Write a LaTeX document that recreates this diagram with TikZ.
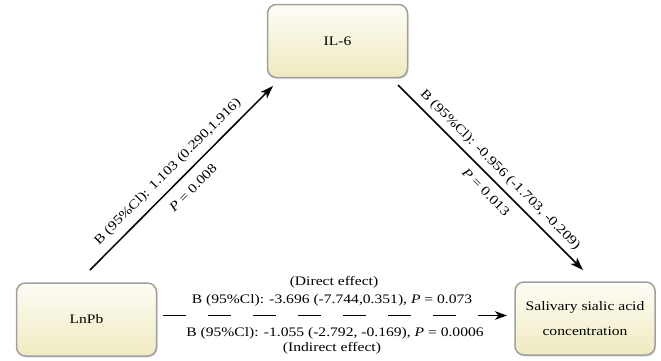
\documentclass[tikz,border=0pt]{standalone}
\usepackage{fontspec}
\setmainfont[FakeStretch=1.2]{Liberation Serif}
\usetikzlibrary{arrows.meta,shadows}
\definecolor{boxtop}{HTML}{FEFDF6}
\definecolor{boxbot}{HTML}{EFEAC0}
\definecolor{boxline}{HTML}{A0A0A0}
\begin{document}
\begin{tikzpicture}[x=1pt,y=-1pt,
  box/.style={draw=boxline, line width=1.5pt, rounded corners=9pt,
    top color=boxtop, bottom color=boxbot,
    minimum width=140pt, minimum height=73pt, inner sep=2pt,
    align=center, font=\fontsize{13}{25}\selectfont,
    drop shadow={shadow xshift=1pt, shadow yshift=-1.5pt, opacity=0.25}},
  lab/.style={font=\fontsize{13}{15}\selectfont, inner sep=0pt},
  conn/.style={line width=1.5pt, -{Stealth[length=13pt,width=9pt,inset=3.5pt]}},
  dconn/.style={line width=1.2pt, dash pattern=on 22.5pt off 22.5pt,
    -{Stealth[length=12pt,width=8.5pt,inset=3.5pt]}}]
\useasboundingbox (0,0) rectangle (661,360);
\fill[white] (0,0) rectangle (661,360);

\node[box] (il6) at (337.5,41) {IL-6};
\node[box] (lnpb) at (86.5,319.5) {LnPb};
\node[box] (sal) at (585,318.5) {Salivary sialic acid\\concentration};

\coordinate (a1s) at (90,270);
\coordinate (a1e) at (273,86);
\coordinate (a2s) at (398,85);
\coordinate (a2e) at (583,270);
\coordinate (ds) at (163,315.5);
\coordinate (de) at (507,315.5);

\draw[conn] (a1s) -- (a1e);
\draw[conn] (a2s) -- (a2e);
\draw[dconn] (ds) -- (de);

\node[lab, rotate=45] (l1a) at (168,172) {B (95\%Cl): 1.103 (0.290,1.916)};
\node[lab, rotate=45] (l1b) at (193,188) {\textit{P} = 0.008};
\node[lab, rotate=-45] (l2a) at (500,170) {B (95\%Cl): -0.956 (-1.703, -0.209)};
\node[lab, rotate=-45] (l2b) at (486,192) {\textit{P} = 0.013};

\node[lab, anchor=base] (t1) at (334,285) {(Direct effect)};
\node[lab, anchor=base] (t2) at (332,303) {B (95\%Cl): -3.696 (-7.744,0.351), \textit{P} = 0.073};
\node[lab, anchor=base] (t3) at (335,336) {B (95\%Cl): -1.055 (-2.792, -0.169), \textit{P} = 0.0006};
\node[lab, anchor=base] (t4) at (332,351) {(Indirect effect)};
\end{tikzpicture}
\end{document}
